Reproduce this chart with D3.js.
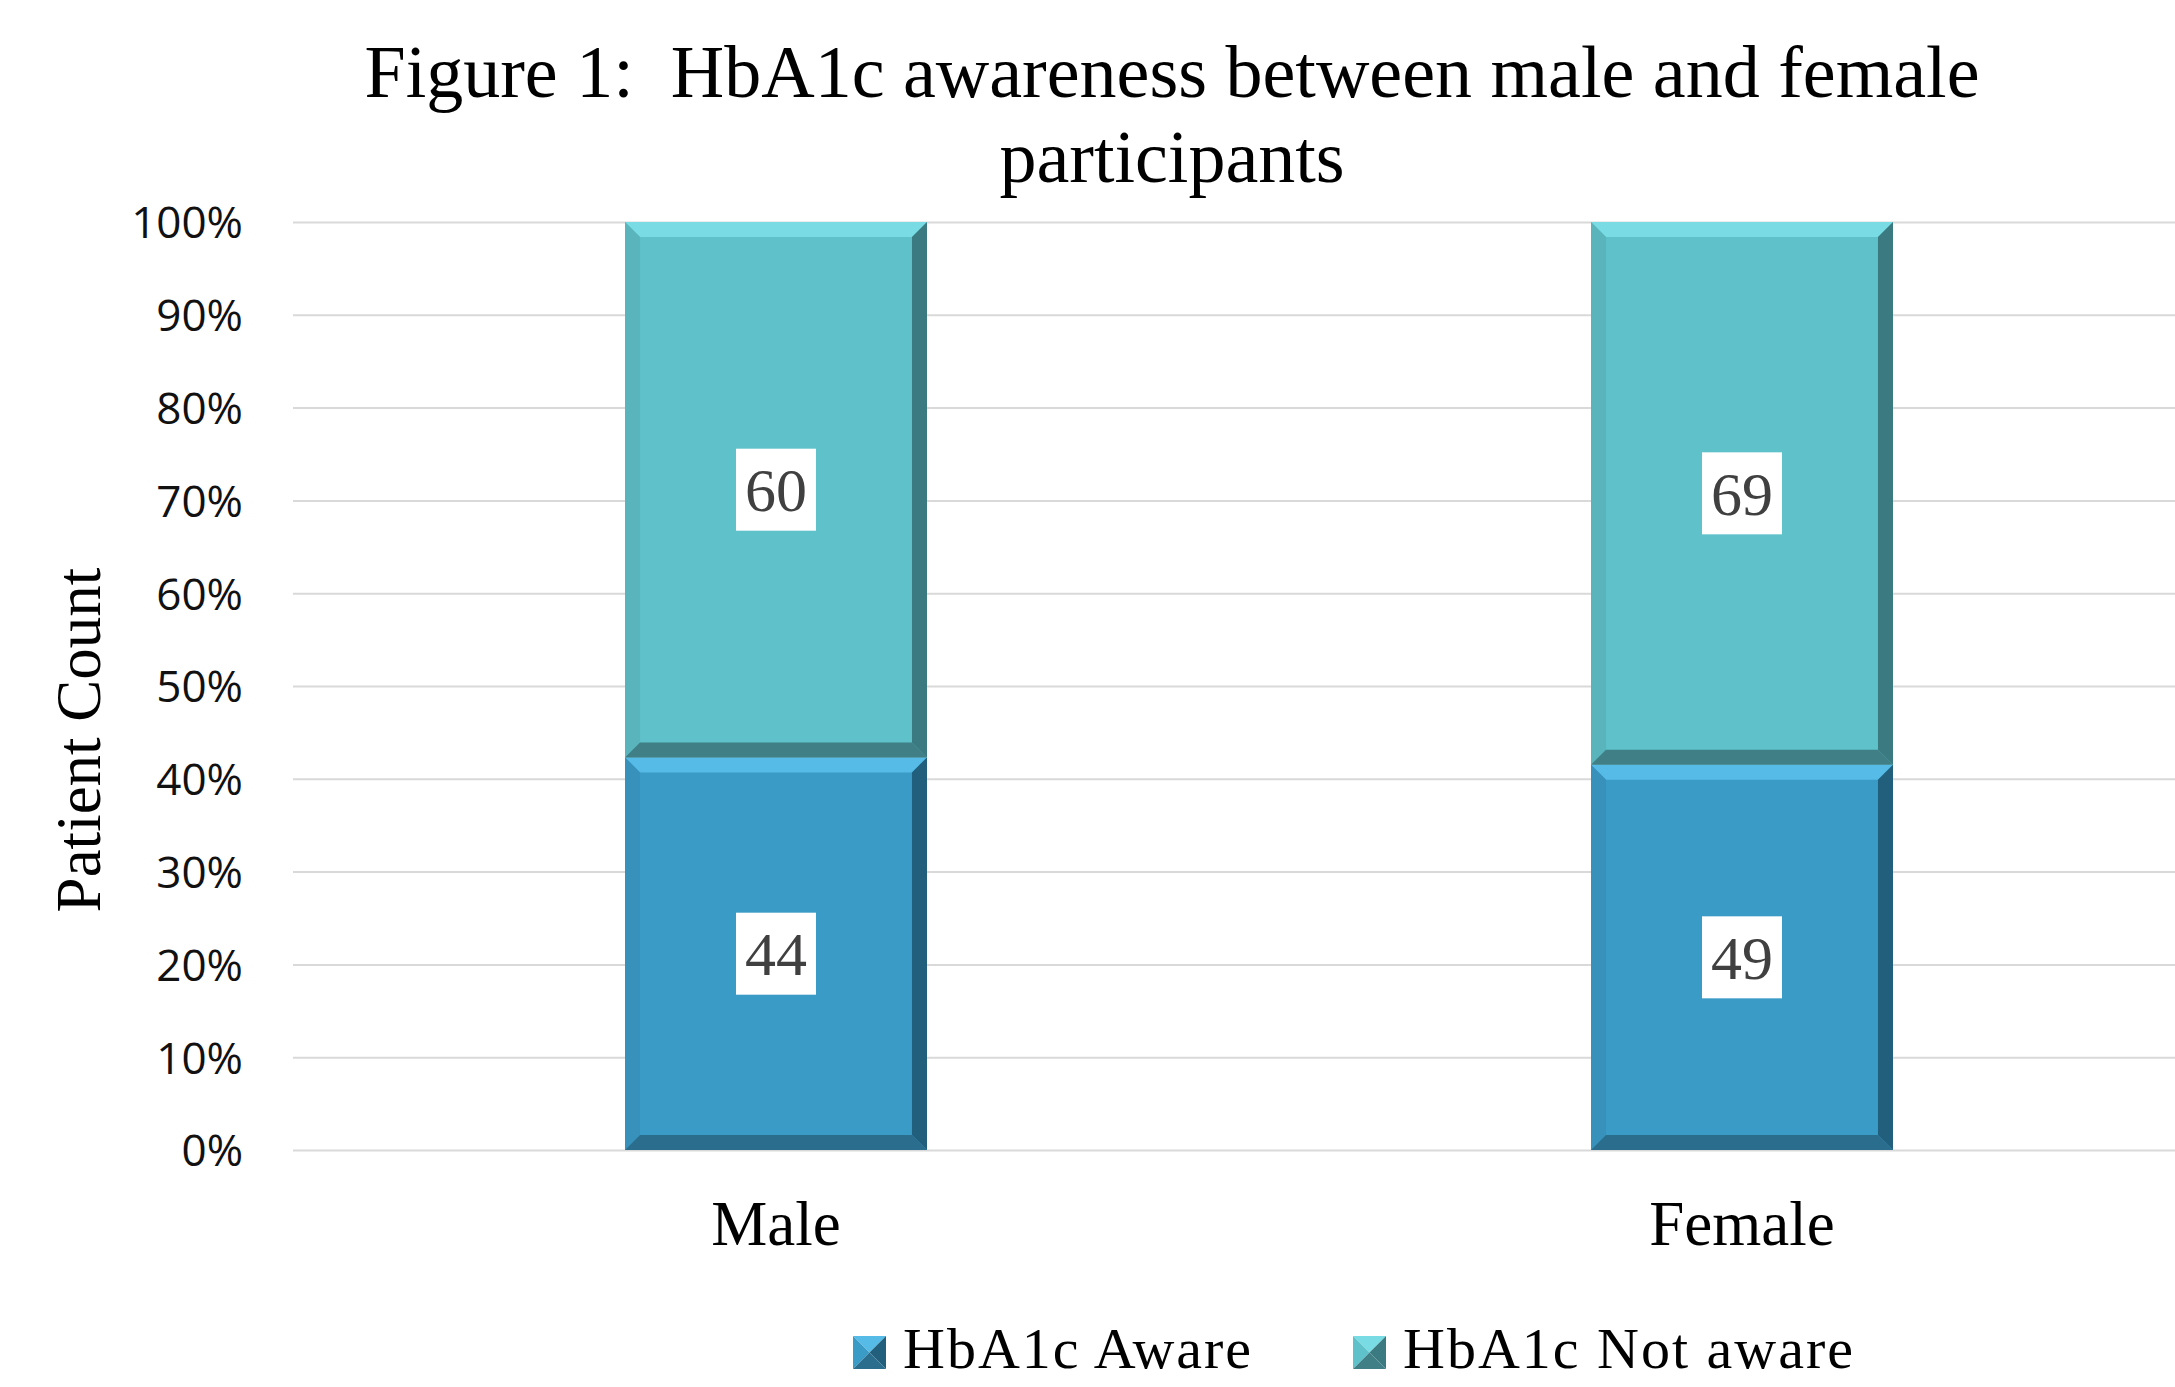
<!DOCTYPE html>
<html>
<head>
<meta charset="utf-8">
<script src="https://cdn.jsdelivr.net/npm/d3@7"></script>
<style>
  html, body { margin: 0; padding: 0; background: #ffffff; }
  svg { display: block; }
</style>
</head>
<body>
<svg id="chart" width="2175" height="1387"></svg>
<script>
// ---- data ----
const categories = ["Male", "Female"];
const seriesNames = ["HbA1c Aware", "HbA1c Not aware"];
const awareCounts = [44, 49];
const notAwareCounts = [60, 69];
const yTickValues = [0, 0.1, 0.2, 0.3, 0.4, 0.5, 0.6, 0.7, 0.8, 0.9, 1.0];
const titleLines = ["Figure 1:  HbA1c awareness between male and female", "participants"];
const yAxisTitle = "Patient Count";

// ---- styles ----
const serif = "'Liberation Serif', 'Times New Roman', serif";
const sans = "'Open Sans', 'Noto Sans', sans-serif";
const palette = {
  "HbA1c Aware":     { base: "#3a9bc7", top: "#56bbe6", left: "#3791bb", right: "#215f7c", bottom: "#2a6d8d" },
  "HbA1c Not aware": { base: "#5fc1c9", top: "#79dbe4", left: "#5ab4bb", right: "#3a7a80", bottom: "#3f7f85" }
};

const svg = d3.select("#chart");
const W = 2175, H = 1387;
const plotLeft = 293, plotTop = 222, plotBottom = 1150;

const table = categories.map((c, i) => ({
  category: c,
  "HbA1c Aware": awareCounts[i],
  "HbA1c Not aware": notAwareCounts[i]
}));

const stacked = d3.stack().keys(seriesNames).offset(d3.stackOffsetExpand)(table);

const x = d3.scaleBand()
  .domain(categories)
  .range([plotLeft, 2225])
  .paddingInner(0.6874)
  .paddingOuter(0.3437);

const y = d3.scaleLinear().domain([0, 1]).range([plotBottom, plotTop]);

// ---- gridlines + y axis ----
const yAxis = d3.axisLeft(y)
  .tickValues(yTickValues)
  .tickFormat(d3.format(".0%"))
  .tickSize(-(W - plotLeft))
  .tickPadding(50);

const gy = svg.append("g")
  .attr("transform", `translate(${plotLeft},0)`)
  .call(yAxis);
gy.select(".domain").remove();
gy.selectAll(".tick line").attr("stroke", "#d9d9d9").attr("stroke-width", 2);
gy.selectAll(".tick text")
  .attr("font-family", sans)
  .attr("font-size", 44)
  .attr("fill", "#111")
  .attr("dy", "0.36em");

// ---- bars with bevel ----
function bevelRect(g, x0, y0, w, h, c) {
  const b = Math.min(15, h / 2, w / 2);
  const x1 = x0 + w, y1 = y0 + h;
  g.append("rect").attr("x", x0).attr("y", y0).attr("width", w).attr("height", h).attr("fill", c.base);
  const poly = (pts, fill) => g.append("polygon")
    .attr("points", pts.map(p => p.join(",")).join(" "))
    .attr("fill", fill);
  poly([[x0, y0], [x1, y0], [x1 - b, y0 + b], [x0 + b, y0 + b]], c.top);
  poly([[x0, y0], [x0 + b, y0 + b], [x0 + b, y1 - b], [x0, y1]], c.left);
  poly([[x1, y0], [x1, y1], [x1 - b, y1 - b], [x1 - b, y0 + b]], c.right);
  poly([[x0, y1], [x0 + b, y1 - b], [x1 - b, y1 - b], [x1, y1]], c.bottom);
}

const barsG = svg.append("g");
stacked.forEach(series => {
  series.forEach(d => {
    const x0 = x(d.data.category);
    const yTop = y(d[1]);
    const yBot = y(d[0]);
    bevelRect(barsG, x0, yTop, x.bandwidth(), yBot - yTop, palette[series.key]);
  });
});

// ---- data labels ----
const labelsG = svg.append("g");
stacked.forEach(series => {
  series.forEach(d => {
    const cx = x(d.data.category) + x.bandwidth() / 2;
    const cy = (y(d[0]) + y(d[1])) / 2;
    const value = d.data[series.key];
    labelsG.append("rect")
      .attr("x", cx - 40).attr("y", cy - 41)
      .attr("width", 80).attr("height", 82)
      .attr("fill", "#ffffff");
    labelsG.append("text")
      .attr("x", cx).attr("y", cy)
      .attr("dy", "0.35em")
      .attr("text-anchor", "middle")
      .attr("font-family", serif)
      .attr("font-size", 62)
      .attr("fill", "#404040")
      .text(value);
  });
});

// ---- x axis labels ----
const xAxis = d3.axisBottom(x).tickSize(0).tickPadding(0);
const gx = svg.append("g").attr("transform", `translate(0,1245)`).call(xAxis);
gx.select(".domain").remove();
gx.selectAll(".tick text")
  .attr("y", 0).attr("dy", 0)
  .attr("font-family", serif)
  .attr("font-size", 63)
  .attr("fill", "#000");

// ---- title ----
svg.append("text")
  .attr("x", 1172).attr("y", 97)
  .attr("text-anchor", "middle")
  .attr("font-family", serif)
  .attr("font-size", 74)
  .attr("fill", "#000")
  .style("white-space", "pre")
  .text(titleLines[0]);
svg.append("text")
  .attr("x", 1172).attr("y", 182)
  .attr("text-anchor", "middle")
  .attr("font-family", serif)
  .attr("font-size", 74)
  .attr("fill", "#000")
  .text(titleLines[1]);

// ---- y axis title ----
svg.append("text")
  .attr("transform", "translate(100,740) rotate(-90)")
  .attr("text-anchor", "middle")
  .attr("font-family", serif)
  .attr("font-size", 63)
  .attr("fill", "#000")
  .text(yAxisTitle);

// ---- legend ----
const legendItems = [
  { key: seriesNames[0], sx: 853, tx: 903 },
  { key: seriesNames[1], sx: 1353, tx: 1403 }
];
const legendG = svg.append("g");
legendItems.forEach(it => {
  const c = palette[it.key];
  const s = 33, sy = 1336;
  const g = legendG.append("g");
  const x0 = it.sx, y0 = sy, x1 = it.sx + s, y1 = sy + s, mx = it.sx + s / 2, my = sy + s / 2;
  const tri = (pts, fill) => g.append("polygon").attr("points", pts.map(p => p.join(",")).join(" ")).attr("fill", fill);
  tri([[x0, y0], [x1, y0], [mx, my]], c.top);
  tri([[x0, y0], [mx, my], [x0, y1]], c.base);
  tri([[x1, y0], [x1, y1], [mx, my]], c.right);
  tri([[x0, y1], [mx, my], [x1, y1]], c.bottom);
  legendG.append("text")
    .attr("x", it.tx).attr("y", 1368)
    .attr("font-family", serif)
    .attr("font-size", 58)
    .attr("letter-spacing", 2)
    .attr("fill", "#000")
    .text(it.key);
});
</script>
</body>
</html>
